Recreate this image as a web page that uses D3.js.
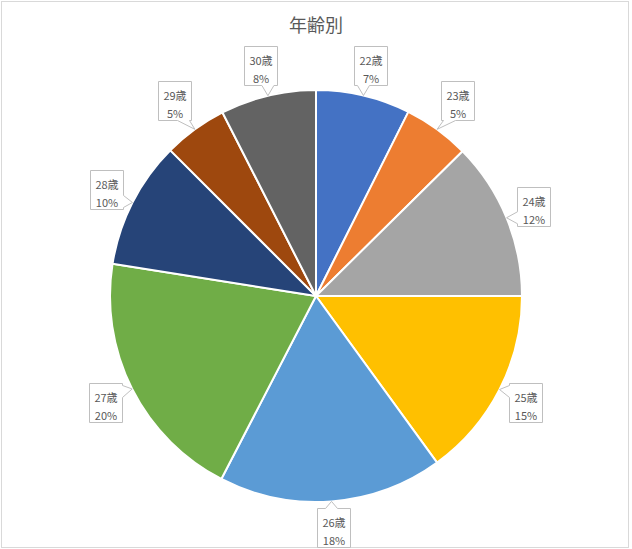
<!DOCTYPE html>
<html><head><meta charset="utf-8">
<script src="https://cdn.jsdelivr.net/npm/d3@7"></script>
<style>
html,body{margin:0;padding:0;background:#fff;}
svg{display:block;font-family:"Noto Sans CJK JP","Noto Sans",sans-serif;}
</style></head>
<body>
<svg id="chart" width="632" height="549"></svg>
<script>
const title = "年齢別";
const categories = ["22歳","23歳","24歳","25歳","26歳","27歳","28歳","29歳","30歳"];
const values = [7.4, 5.2, 12.4, 15.0, 17.6, 19.9, 10.0, 5.0, 7.5];
const colors = ["#4472C4","#ED7D31","#A5A5A5","#FFC000","#5B9BD5","#70AD47","#264478","#9E480E","#636363"];

const W = 632, H = 549;
const cx = 316, cy = 296, r = 206;
const svg = d3.select("#chart");

svg.append("rect").attr("x",1.5).attr("y",1.5).attr("width",627).attr("height",546)
  .attr("fill","#fff").attr("stroke","#d9d9d9").attr("stroke-width",1);

svg.append("text").attr("x",316).attr("y",24).attr("text-anchor","middle")
  .attr("dominant-baseline","central").attr("font-size",18).attr("fill","#595959").text(title);

const total = d3.sum(values);
const data = categories.map((c,i)=>({cat:c, value:values[i], color:colors[i]}));
const pie = d3.pie().sort(null).value(d=>d.value);
const arcs = pie(data);
const arc = d3.arc().innerRadius(0).outerRadius(r);

const g = svg.append("g").attr("transform",`translate(${cx},${cy})`);
g.selectAll("path").data(arcs).join("path")
  .attr("d",arc).attr("fill",d=>d.data.color)
  .attr("stroke","#fff").attr("stroke-width",2).attr("stroke-linejoin","round");

const lab = svg.append("g");
const clamp = (v,a,b)=>Math.max(a,Math.min(b,v));
arcs.forEach(d=>{
  const a = (d.startAngle + d.endAngle)/2;
  const ux = Math.sin(a), uy = -Math.cos(a);
  const pct = Math.round(d.data.value*100/total) + "%";
  const grp = lab.append("g");
  const t1 = grp.append("text").attr("font-size",11).attr("fill","#595959").attr("text-anchor","middle")
    .attr("dominant-baseline","central").text(d.data.cat);
  const t2 = grp.append("text").attr("font-size",11).attr("fill","#595959").attr("text-anchor","middle")
    .attr("dominant-baseline","central").text(pct);
  const tw = Math.max(t1.node().getComputedTextLength(), t2.node().getComputedTextLength());
  const bw = Math.round(tw + 10), bh = 39;
  const hw = bw/2, hh = bh/2;
  const t = Math.min(Math.abs(ux) > 1e-6 ? hw/Math.abs(ux) : 1e9, Math.abs(uy) > 1e-6 ? hh/Math.abs(uy) : 1e9);
  const dist = r + 11 + t;
  let bx = cx + ux*dist, by = cy + uy*dist;
  bx = clamp(bx, 3 + hw, 628 - hw);
  by = clamp(by, 3 + hh, 547 - hh);
  const x0 = Math.round(bx - hw) + 0.5, x1 = x0 + bw, y0 = Math.round(by - hh) + 0.5, y1 = y0 + bh;
  const tip = [cx + ux*r, cy + uy*r];
  // choose side
  const ndx = (tip[0]-bx)/hw, ndy = (tip[1]-by)/hh;
  let side;
  if (Math.abs(ndx) > Math.abs(ndy)) side = ndx > 0 ? "right" : "left";
  else side = ndy > 0 ? "bottom" : "top";
  const bhw = 6, m = 8;
  let p = `M${x0},${y0}`;
  // top
  if (side==="top"){ const c = clamp(tip[0], x0+m, x1-m); p += `L${c-bhw},${y0}L${tip[0]},${tip[1]}L${c+bhw},${y0}`; }
  p += `L${x1},${y0}`;
  if (side==="right"){ const c = clamp(tip[1], y0+m, y1-m); p += `L${x1},${c-bhw}L${tip[0]},${tip[1]}L${x1},${c+bhw}`; }
  p += `L${x1},${y1}`;
  if (side==="bottom"){ const c = clamp(tip[0], x0+m, x1-m); p += `L${c+bhw},${y1}L${tip[0]},${tip[1]}L${c-bhw},${y1}`; }
  p += `L${x0},${y1}`;
  if (side==="left"){ const c = clamp(tip[1], y0+m, y1-m); p += `L${x0},${c+bhw}L${tip[0]},${tip[1]}L${x0},${c-bhw}`; }
  p += "Z";
  grp.insert("path","text").attr("d",p).attr("fill","#fff").attr("stroke","#bfbfbf").attr("stroke-width",1);
  const mx = (x0+x1)/2;
  t1.attr("x",mx).attr("y",y0+13);
  t2.attr("x",mx).attr("y",y0+31);
});
</script>
</body></html>
